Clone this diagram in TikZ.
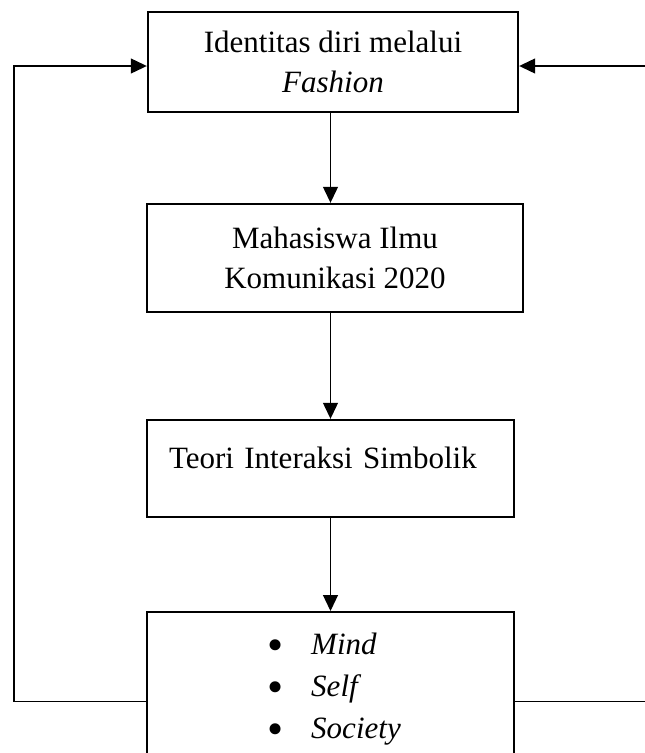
\documentclass[tikz,border=0pt]{standalone}
\usepackage{fontspec}
\setmainfont{Liberation Serif}
\usetikzlibrary{arrows.meta,positioning}
\tikzset{
  box/.style={draw,line width=2.4pt,align=center,inner sep=0pt,font=\fontsize{31}{40}\selectfont},
  arr/.style={-{Triangle[length=16pt,width=15pt]},line width=1.2pt},
  ln/.style={line width=1.2pt},
}
\newcommand\blt{\makebox[11pt][c]{\raisebox{-6pt}{\fontsize{46}{46}\selectfont •}}}
\begin{document}
\begin{tikzpicture}[x=1pt,y=-1pt]
\useasboundingbox (0,0) rectangle (645,753);
% boxes
\node[box,minimum width=370pt,minimum height=100pt] (ident) at (333,62) {Identitas diri melalui\\\textit{Fashion}};
\node[box,minimum width=376pt,minimum height=108pt] (mhs) at (335,258) {Mahasiswa Ilmu\\Komunikasi 2020};
\node[box,align=left,text width=323pt,inner xsep=22pt,text height=48pt,text depth=49pt] (teori) at (330.5,468.5) {Teori Interaksi Simbolik};
\node[box,anchor=north,minimum width=367pt,text height=42pt,text depth=136pt,font=\fontsize{31}{42}\selectfont] (konsep) at (330.5,611)
  {\begin{tabular}[t]{@{\hspace{9.5pt}}l@{\hspace{30.5pt}}l@{}}\blt&\textit{Mind}\\\blt&\textit{Self}\\\blt&\textit{Society}\end{tabular}};
% arrows down
\draw[arr] (ident.south -| teori.north) -- (mhs.north -| teori.north);
\draw[arr] (mhs.south -| teori.north) -- (teori.north);
\draw[arr] (teori.south) -- (konsep.north);
% feedback lines
\coordinate (lx) at (14,0);
\coordinate (rx) at (645,0);
\coordinate (iw) at ([yshift=-4pt]ident.west);
\coordinate (ie) at ([yshift=-4pt]ident.east);
\draw[arr] (konsep.west) -- (konsep.west -| lx) |- (iw);
\draw[ln] (konsep.east) -- (konsep.east -| rx);
\draw[arr] (ie -| rx) -- (ie);
\end{tikzpicture}
\end{document}
